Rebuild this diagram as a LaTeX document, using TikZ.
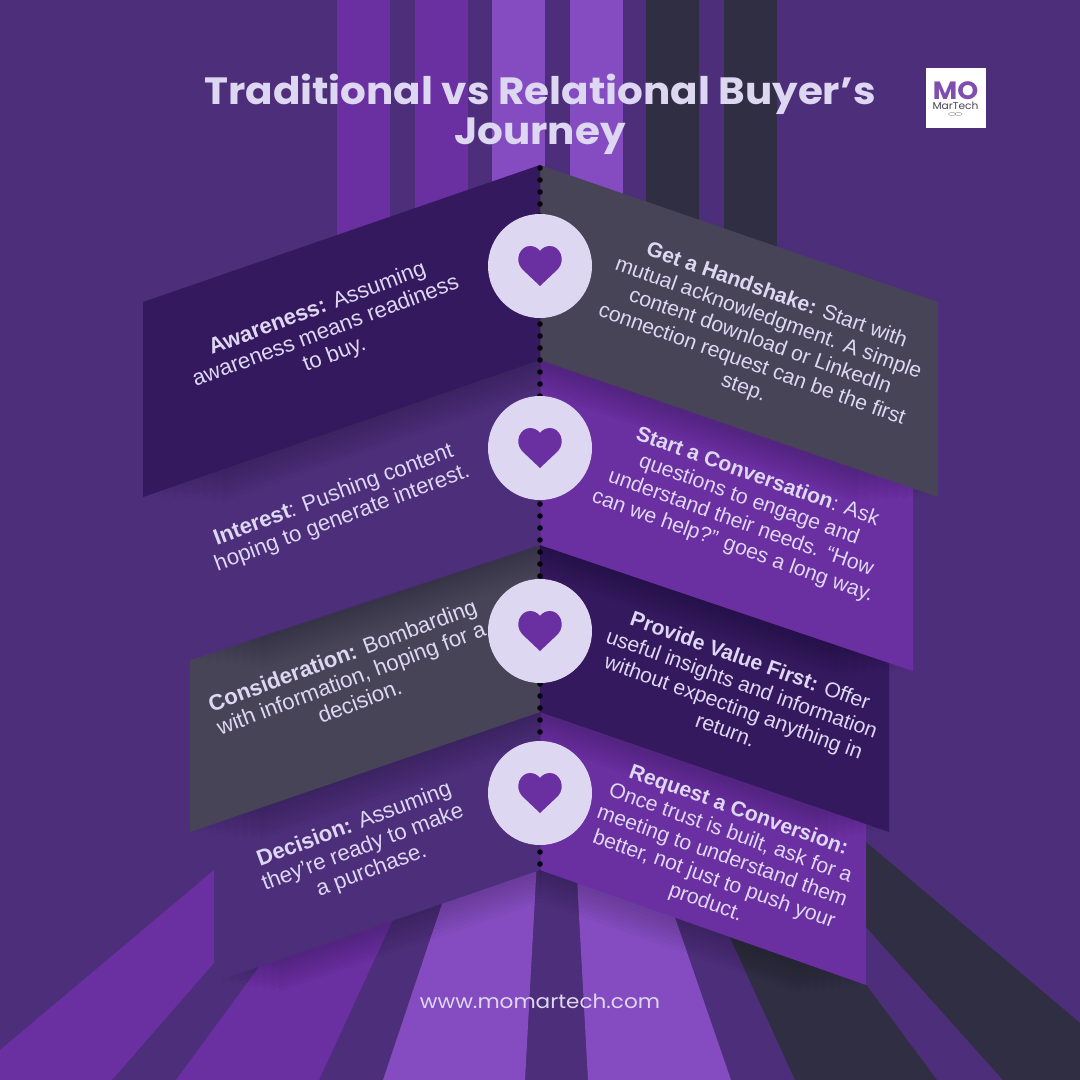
\documentclass[tikz,border=0pt]{standalone}
\usepackage{fontspec}
\setmainfont{Liberation Sans}
\newfontfamily\titlefont[FakeStretch=1.065]{Poppins}
\newfontfamily\sitefont[FakeStretch=1.1]{Poppins}
\definecolor{bgviolet}{HTML}{4C2E7A}
\definecolor{midviolet}{HTML}{6A2FA0}
\definecolor{lightviolet}{HTML}{844CC0}
\definecolor{inkgrey}{HTML}{302E42}
\definecolor{deepviolet}{HTML}{35195F}
\definecolor{slategrey}{HTML}{474458}
\definecolor{paleviolet}{HTML}{DED7F2}
\usetikzlibrary{positioning}

\begin{document}
\begin{tikzpicture}[x=1pt,y=-1pt,
	steptext/.style={text=paleviolet,align=center,inner sep=0pt},
	lefttext/.style={steptext,rotate=20.5,font=\fontsize{22.2}{24.5}\selectfont},
	righttext/.style={steptext,rotate=-19.7,font=\fontsize{21.2}{24.5}\selectfont},
	heartdisc/.style={circle,fill=paleviolet,minimum size=104pt,inner sep=0pt},
	heartmark/.style={fill=midviolet},
	dotline/.style={line width=5.6pt,line cap=round,dash pattern=on 0pt off 12pt,draw=black!85!deepviolet},
	]
		\useasboundingbox (0,0) rectangle (1080,1080);
		\fill[bgviolet] (0,0) rectangle (1080,1080);
		%
		\foreach \xa/\stripecol in {337/midviolet,415/midviolet,492/lightviolet,570/lightviolet,646/inkgrey,724/inkgrey} {
			\fill[\stripecol] (\xa,0) rectangle (\xa+53,300);
		}
		%
		\fill[midviolet] (0,1050) -- (214,870) -- (214,963) -- (112,1080) -- (0,1080) -- cycle;
		\fill[midviolet] (264,960) -- (402,900) -- (319,1080) -- (176,1080) -- cycle;
		\fill[lightviolet] (450,880) -- (537,860) -- (525,1080) -- (383,1080) -- cycle;
		\fill[lightviolet] (576,860) -- (669,900) -- (731,1080) -- (588,1080) -- cycle;
		\fill[inkgrey] (722,920) -- (859,975) -- (937,1080) -- (795,1080) -- cycle;
		\fill[inkgrey] (866,842) -- (1080,1023) -- (1080,1080) -- (1003,1080) -- (866,927) -- cycle;
		%
		\foreach \panelcol/\ox/\ot/\ob/\it/\ib in {
			midviolet/866/822/985/712/870,
			bgviolet/214/824/982/712/870,
			deepviolet/889/663/832/545/712,
			slategrey/190/660/832/545/712,
			midviolet/913/488/671/360/545,
			bgviolet/190/481/660/360/545,
			slategrey/938/302/497/165/360,
			deepviolet/143/302/497/165/360} {
			\foreach \drop in {4,8,...,32} {
				\fill[black,opacity=0.022] ({\ox+(540-\ox)*\drop/160},\ot+\drop) -- (540,\it+\drop) -- (540,\ib+\drop) -- ({\ox+(540-\ox)*\drop/160},{\ob+\drop-(\ob-\ib)*\drop/160}) -- cycle;
			}
			\fill[\panelcol] (\ox,\ot) -- (540,\it) -- (540,\ib) -- (\ox,\ob) -- cycle;
		}
		%
		\coordinate (spinetop) at (540,168);
		\coordinate (spineend) at (540,870);
		\draw[dotline] (spinetop) -- (spineend);
		%
		\node[lefttext] (awareness) at (326,332) {\textbf{Awareness:} Assuming\\awareness means readiness\\to buy.};
		\node[lefttext] (interest) at (338,507) {\textbf{Interest}: Pushing content\\hoping to generate interest.};
		\node[lefttext] (consideration) at (351,678) {\textbf{Consideration:} Bombarding\\with information, hoping for a\\decision.};
		\node[lefttext] (decision) at (363,848) {\textbf{Decision:} Assuming\\they're ready to make\\a purchase.};
		\node[righttext] (handshake) at (760,342) {\textbf{Get a Handshake:} Start with\\mutual acknowledgment. A simple\\content download or LinkedIn\\connection request can be the first\\step.};
		\node[righttext] (conversation) at (745,512) {\textbf{Start a Conversation}: Ask\\questions to engage and\\understand their needs. “How\\can we help?” goes a long way.};
		\node[righttext] (value) at (738,695) {\textbf{Provide Value First:} Offer\\useful insights and information\\without expecting anything in\\return.};
		\node[righttext] (request) at (722,857) {\textbf{Request a Conversion:}\\Once trust is built, ask for a\\meeting to understand them\\better, not just to push your\\product.};
		%
		\foreach \cy/\discname in {266/disca,448/discb,631/discc,793/discd} {
			\node[heartdisc] (\discname) at (540,\cy) {};
			\fill[heartmark,shift={(540,\cy)}] (0,20) -- (-18,3) .. controls (-26,-6) and (-20,-20) .. (-10,-20) .. controls (-6,-20) and (-2,-18) .. (0,-15) .. controls (2,-18) and (6,-20) .. (10,-20) .. controls (20,-20) and (26,-6) .. (18,3) -- cycle;
		}
		%
		\node[text=paleviolet,align=center,inner sep=0pt,font=\titlefont\bfseries\fontsize{38}{40}\selectfont] (title) at (540,114) {Traditional vs Relational Buyer’s\\Journey};
		\node[text=paleviolet,inner sep=0pt,font=\sitefont\fontsize{19.6}{24}\selectfont] (site) at (540,1001) {www.momartech.com};
		%
		\node[fill=white,minimum size=60pt,inner sep=0pt] (logo) at (955.5,98) {};
		\node[text=midviolet!85!white,inner sep=0pt,font=\titlefont\bfseries\fontsize{25}{25}\selectfont] (logomark) at (955.5,91) {MO};
		\node[text=slategrey,inner sep=0pt,font=\titlefont\fontsize{10}{10}\selectfont] (logoname) at (955.5,106) {MarTech};
		\draw[slategrey!60,line width=0.4pt] (952,114) ellipse (3.5 and 1.6) (958.5,114) ellipse (3.5 and 1.6);
\end{tikzpicture}
\end{document}
